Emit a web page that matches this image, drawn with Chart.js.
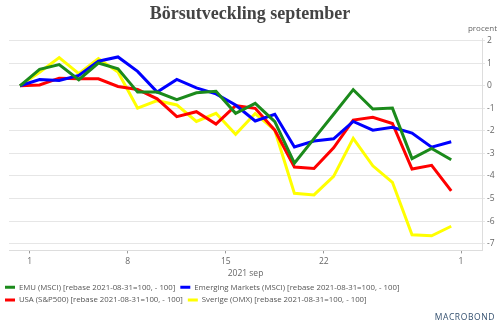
<!DOCTYPE html>
<html>
<head>
<meta charset="utf-8">
<script src="https://cdn.jsdelivr.net/npm/chart.js@4/dist/chart.umd.min.js"></script>
<style>
html,body{margin:0;padding:0;background:#fff;}
#wrap{width:500px;height:325px;position:relative;}
</style>
</head>
<body>
<div id="wrap"><canvas id="c" width="500" height="325"></canvas></div>
<script>
const titleText = 'Börsutveckling september';
const unitLabel = 'procent';
const axisTitle = '2021 sep';
const dates = ['2021-08-31','2021-09-01','2021-09-02','2021-09-03','2021-09-06','2021-09-07','2021-09-08','2021-09-09','2021-09-10','2021-09-13','2021-09-14','2021-09-15','2021-09-16','2021-09-17','2021-09-20','2021-09-21','2021-09-22','2021-09-23','2021-09-24','2021-09-27','2021-09-28','2021-09-29','2021-09-30'];
const tickDates = ['2021-09-01','2021-09-08','2021-09-15','2021-09-22','2021-10-01'];
const tickLabels = ['1','8','15','22','1'];
const yTicks = [-7,-6,-5,-4,-3,-2,-1,0,1,2];
const seriesNames = ['EMU (MSCI) [rebase 2021-08-31=100, - 100]','Emerging Markets (MSCI) [rebase 2021-08-31=100, - 100]','USA (S&P500) [rebase 2021-08-31=100, - 100]','Sverige (OMX) [rebase 2021-08-31=100, - 100]'];
const emu = [0,0.73,0.94,0.27,1.01,0.75,-0.28,-0.28,-0.61,-0.31,-0.24,-1.22,-0.78,-1.59,-3.43,-2.34,-1.26,-0.17,-1.03,-0.99,-3.23,-2.78,-3.28];
const em  = [0,0.28,0.24,0.46,1.09,1.28,0.64,-0.28,0.28,-0.09,-0.36,-0.85,-1.56,-1.26,-2.71,-2.45,-2.35,-1.58,-1.97,-1.84,-2.10,-2.72,-2.48];
const usa = [0,0.04,0.34,0.31,0.31,-0.03,-0.16,-0.58,-1.37,-1.15,-1.70,-0.88,-1.0,-1.97,-3.60,-3.67,-2.75,-1.52,-1.40,-1.67,-3.69,-3.53,-4.66];
const swe = [0,0.6,1.25,0.54,1.21,0.61,-0.99,-0.66,-0.85,-1.58,-1.22,-2.15,-1.23,-1.97,-4.77,-4.84,-4.02,-2.33,-3.55,-4.28,-6.61,-6.65,-6.23];
const colors = ['#1b8a1b','#0000ff','#ff0000','#ffff00'];

function tickIndex(d){
  let i = dates.findIndex(x => x >= d);
  if (i < 0) i = dates.length;
  return i - 0.5;
}
const tickPos = tickDates.map(tickIndex);
const seriesVals = [emu, em, usa, swe];
const datasets = seriesVals.map((vals, k) => ({
  label: seriesNames[k],
  data: vals.map((v, i) => ({x: i, y: v})),
  borderColor: colors[k],
  backgroundColor: colors[k],
  borderWidth: 3,
  pointRadius: 0,
  tension: 0,
  fill: false
}));

const extras = {
  id: 'extras',
  afterDraw(chart){
    const ctx = chart.ctx;
    ctx.save();
    ctx.fillStyle = '#444';
    ctx.font = 'bold 18px "Liberation Serif"';
    ctx.textAlign = 'center';
    ctx.textBaseline = 'middle';
    ctx.fillText(titleText, 250, 14);
    ctx.fillStyle = '#666';
    ctx.font = '8px "Open Sans"';
    ctx.textAlign = 'right';
    ctx.fillText(unitLabel, 497, 29);
    ctx.fillStyle = '#34506f';
    ctx.font = '8.5px "Open Sans"';
    ctx.textAlign = 'right';
    if ('letterSpacing' in ctx) ctx.letterSpacing = '0.6px';
    ctx.fillText('MACROBOND', 495, 318);
    ctx.restore();
  }
};

new Chart(document.getElementById('c'), {
  type: 'line',
  data: { datasets },
  plugins: [extras],
  options: {
    responsive: false,
    animation: false,
    layout: { padding: { left: 0, top: 38, right: 0, bottom: 11 } },
    plugins: {
      title: { display: false },
      tooltip: { enabled: false },
      legend: {
        position: 'bottom',
        align: 'start',
        labels: {
          boxWidth: 10, boxHeight: 3, padding: 5,
          color: '#555',
          font: { family: 'Open Sans', size: 7.8 },
          generateLabels: (chart) => Chart.defaults.plugins.legend.labels.generateLabels(chart).map(l => Object.assign(l, {lineWidth: 0}))
        }
      }
    },
    scales: {
      x: {
        type: 'linear',
        min: -0.56, max: 23.57,
        afterBuildTicks: a => { a.ticks = tickPos.map(v => ({value: v})); },
        afterFit: a => { a.height = 28; },
        ticks: {
          autoSkip: false, maxRotation: 0, color: '#666', padding: 3,
          font: { family: 'Open Sans', size: 8.5 },
          callback: (v, i) => tickLabels[i]
        },
        grid: { drawOnChartArea: false, drawTicks: true, tickLength: 3, color: '#999' },
        border: { display: true, color: '#ddd' },
        title: { display: true, text: axisTitle, color: '#666', font: { family: 'Open Sans', size: 8.5 }, padding: {top: 1, bottom: 0} }
      },
      y: {
        position: 'right',
        min: -7.3, max: 2.12,
        afterBuildTicks: a => { a.ticks = yTicks.map(v => ({value: v})); },
        afterFit: a => { a.width = 18; },
        ticks: { color: '#666', padding: 2, font: { family: 'Open Sans', size: 8.5 } },
        grid: { color: '#e6e6e6', tickLength: 3, lineWidth: 1 },
        border: { display: true, color: '#ddd' }
      },
      yLeft: {
        position: 'left',
        display: true,
        afterFit: a => { a.width = 9; },
        ticks: { display: false },
        grid: { display: false, drawTicks: false },
        border: { display: false }
      }
    }
  }
});
</script>
</body>
</html>
